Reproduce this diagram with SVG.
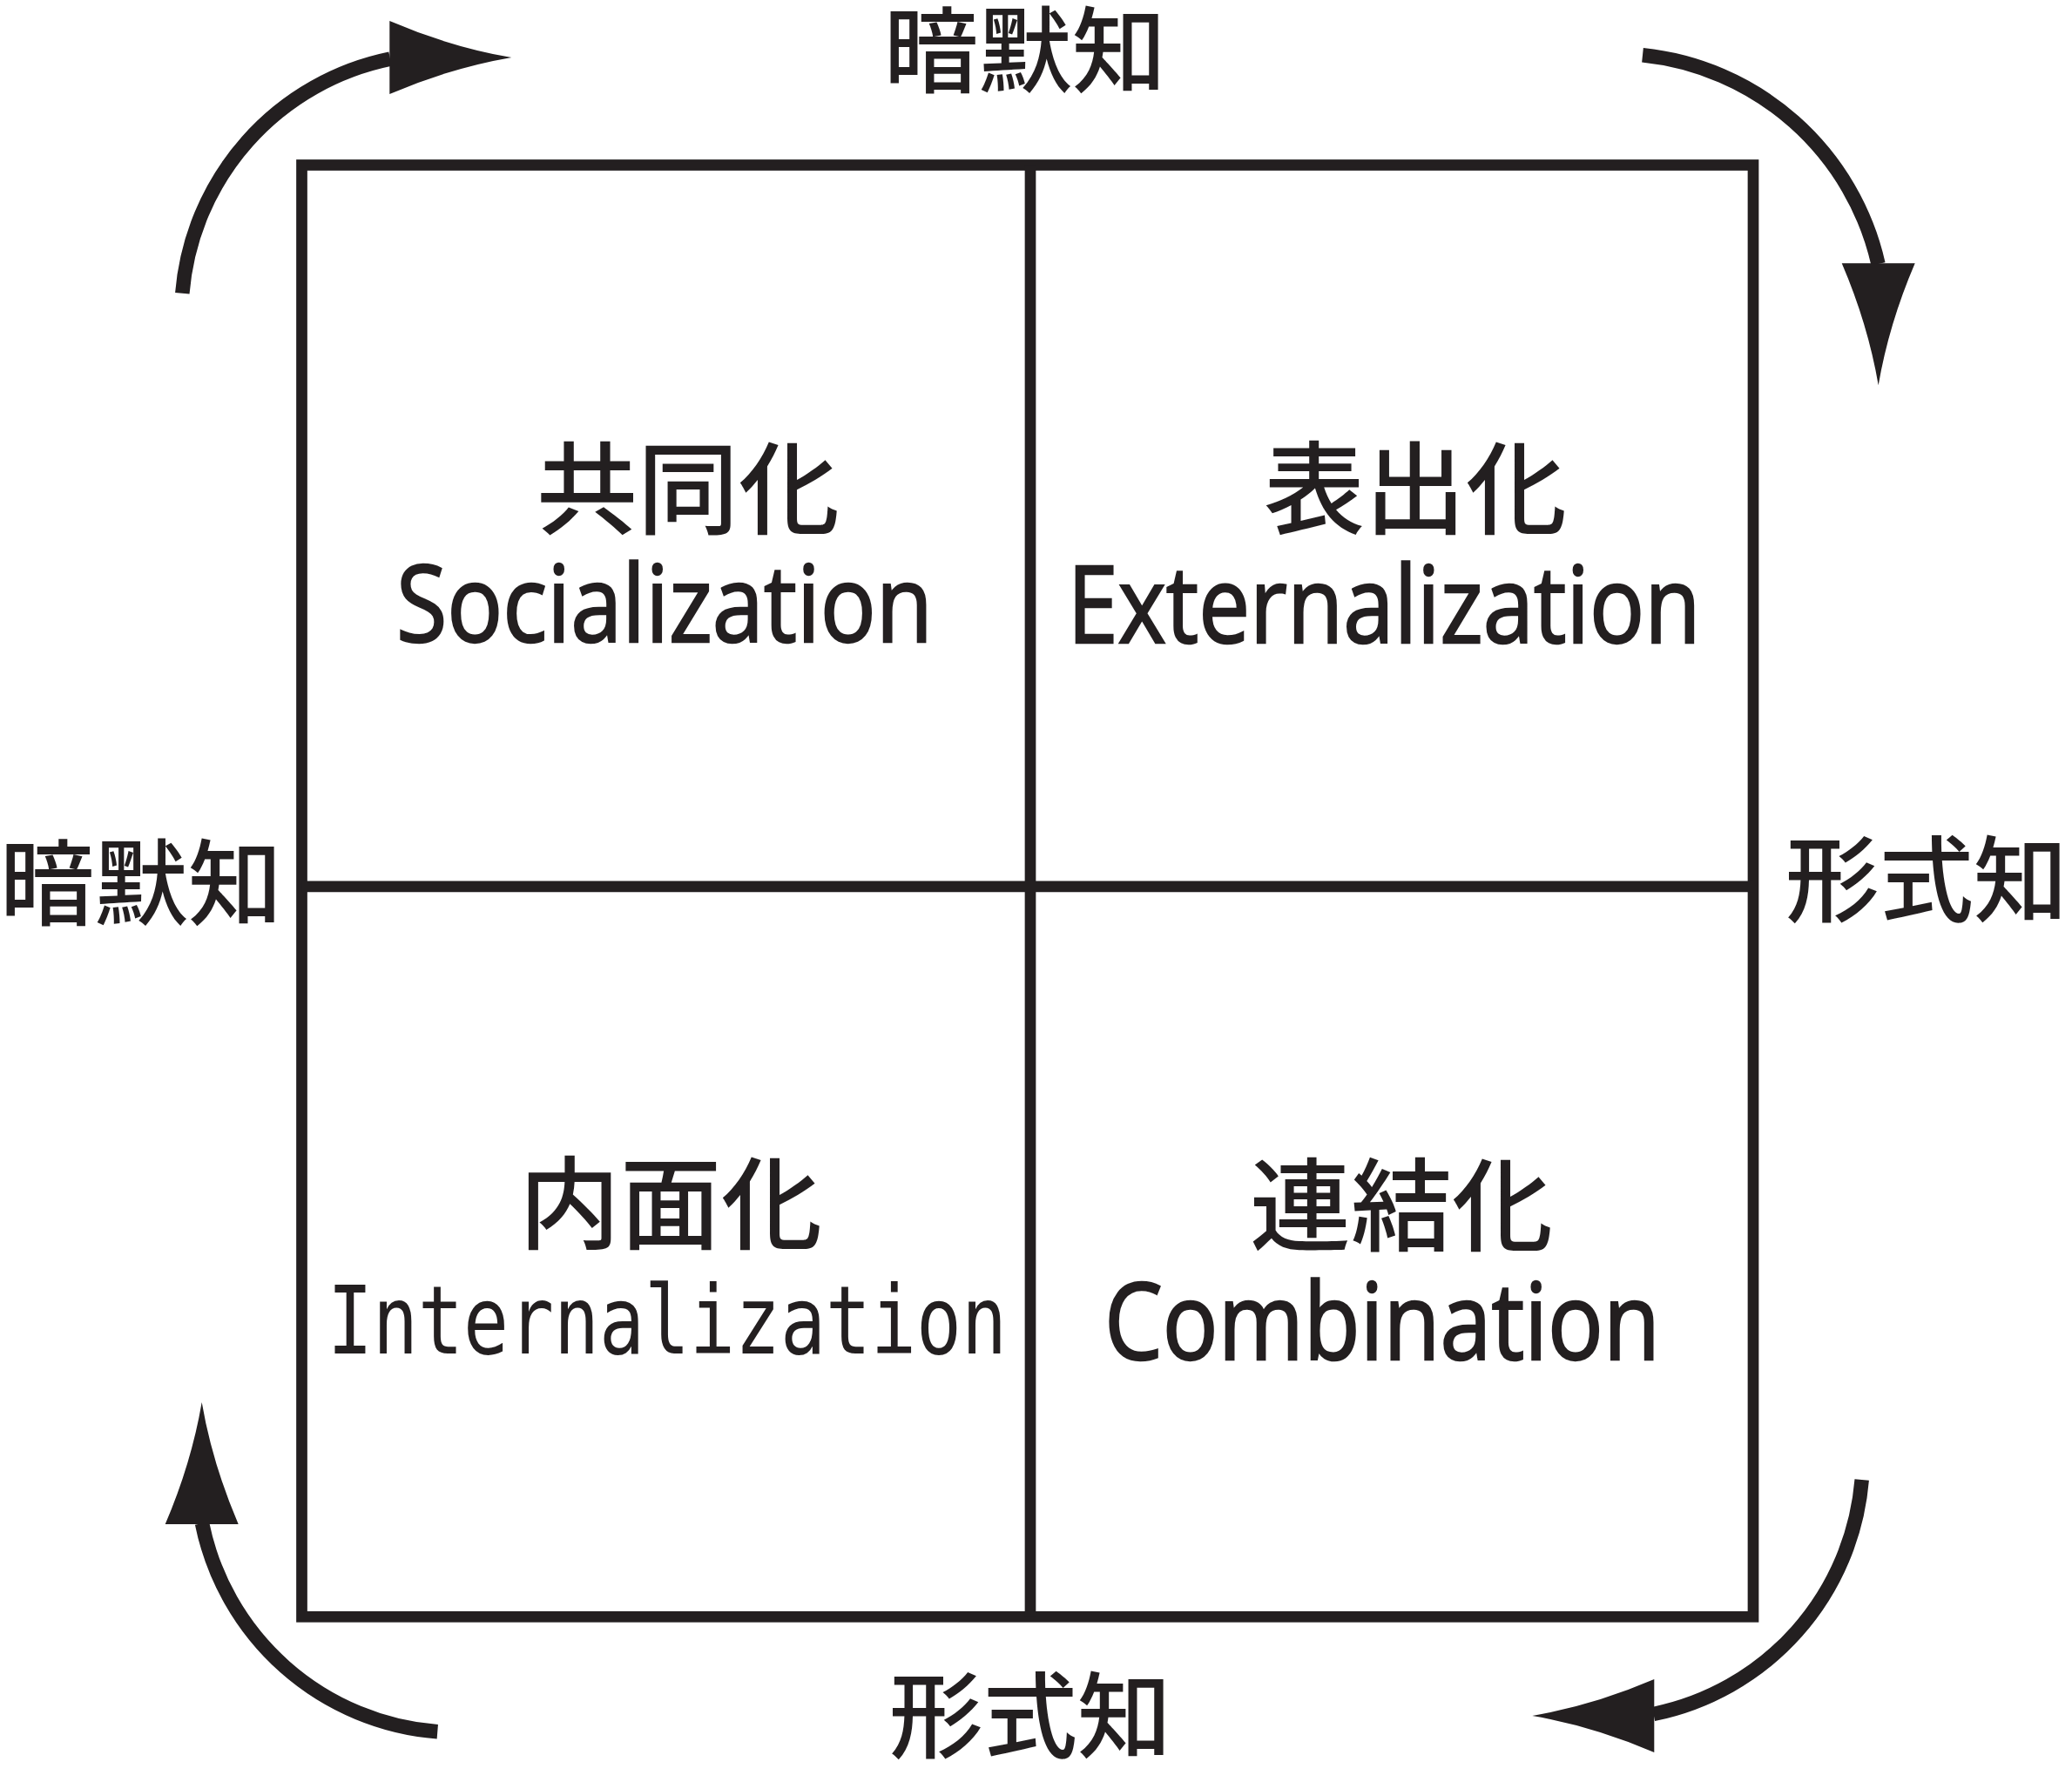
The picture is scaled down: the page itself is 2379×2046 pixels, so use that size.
<svg xmlns="http://www.w3.org/2000/svg" width="2379" height="2046" viewBox="0 0 2379 2046">
<style>
.ln{fill:none;stroke:#231f20;stroke-width:12.7}
.arc{fill:none;stroke:#231f20;stroke-width:16.5}
.ah{fill:#231f20}
.cjk{font-family:"Noto Sans CJK JP","Noto Sans CJK SC",sans-serif;font-weight:500;fill:#231f20;text-anchor:middle}
.lbl{font-size:108px}
.qj{font-size:116px}
.lat{font-family:"Open Sans","Noto Sans",sans-serif;font-weight:500;font-size:122px;fill:#231f20;stroke:#231f20;stroke-width:2.5;text-anchor:middle}
.mono{font-family:"DejaVu Sans Mono",monospace;font-size:108px;fill:#231f20;text-anchor:middle}
</style>
<defs>
<path id="ahead" d="M0,-42 Q70,-12 140,0 Q70,12 0,42 Z"/>
</defs>
<rect width="2379" height="2046" fill="#ffffff"/>
<g id="grid">
<rect class="ln" x="346.5" y="189.5" width="1666.5" height="1666.8"/>
<line class="ln" x1="1183" y1="189.5" x2="1183" y2="1856.3"/>
<line class="ln" x1="346.5" y1="1017.8" x2="2013" y2="1017.8"/>
</g>
<g id="socialization">
<text class="cjk qj" x="790" y="604">共同化</text>
<text class="lat" x="763" y="737" textLength="616" lengthAdjust="spacingAndGlyphs">Socialization</text>
</g>
<g id="externalization">
<text class="cjk qj" x="1625" y="604">表出化</text>
<text class="lat" x="1589" y="738" textLength="727" lengthAdjust="spacingAndGlyphs">Externalization</text>
</g>
<g id="internalization">
<text class="cjk qj" x="770" y="1425">内面化</text>
<text class="mono" x="766" y="1554" textLength="780" lengthAdjust="spacingAndGlyphs">Internalization</text>
</g>
<g id="combination">
<text class="cjk qj" x="1609" y="1427">連結化</text>
<text class="lat" x="1587" y="1561" textLength="638" lengthAdjust="spacingAndGlyphs">Combination</text>
</g>
<g id="label-top"><text class="cjk lbl" x="1177" y="98">暗默知</text></g>
<g id="label-left"><text class="cjk lbl" x="162" y="1054">暗默知</text></g>
<g id="label-right"><text class="cjk lbl" x="2212" y="1050">形式知</text></g>
<g id="label-bottom"><text class="cjk lbl" x="1183" y="2010">形式知</text></g>
<g id="connectors">
<path class="arc" d="M209.3,336.7 A300,300 0 0 1 448,67.7"/>
<use class="ah" href="#ahead" transform="translate(447.3,66)"/>
<path class="arc" d="M1886,63.3 A310,310 0 0 1 2156.5,303"/>
<use class="ah" href="#ahead" transform="translate(2156.7,302.3) rotate(90)"/>
<path class="arc" d="M2137.7,1699 A300,300 0 0 1 1898.5,1968"/>
<use class="ah" href="#ahead" transform="translate(1899.3,1970) rotate(180)"/>
<path class="arc" d="M502.3,1988.3 A300,300 0 0 1 232,1749"/>
<use class="ah" href="#ahead" transform="translate(231.7,1750) rotate(-90)"/>
</g>
</svg>
